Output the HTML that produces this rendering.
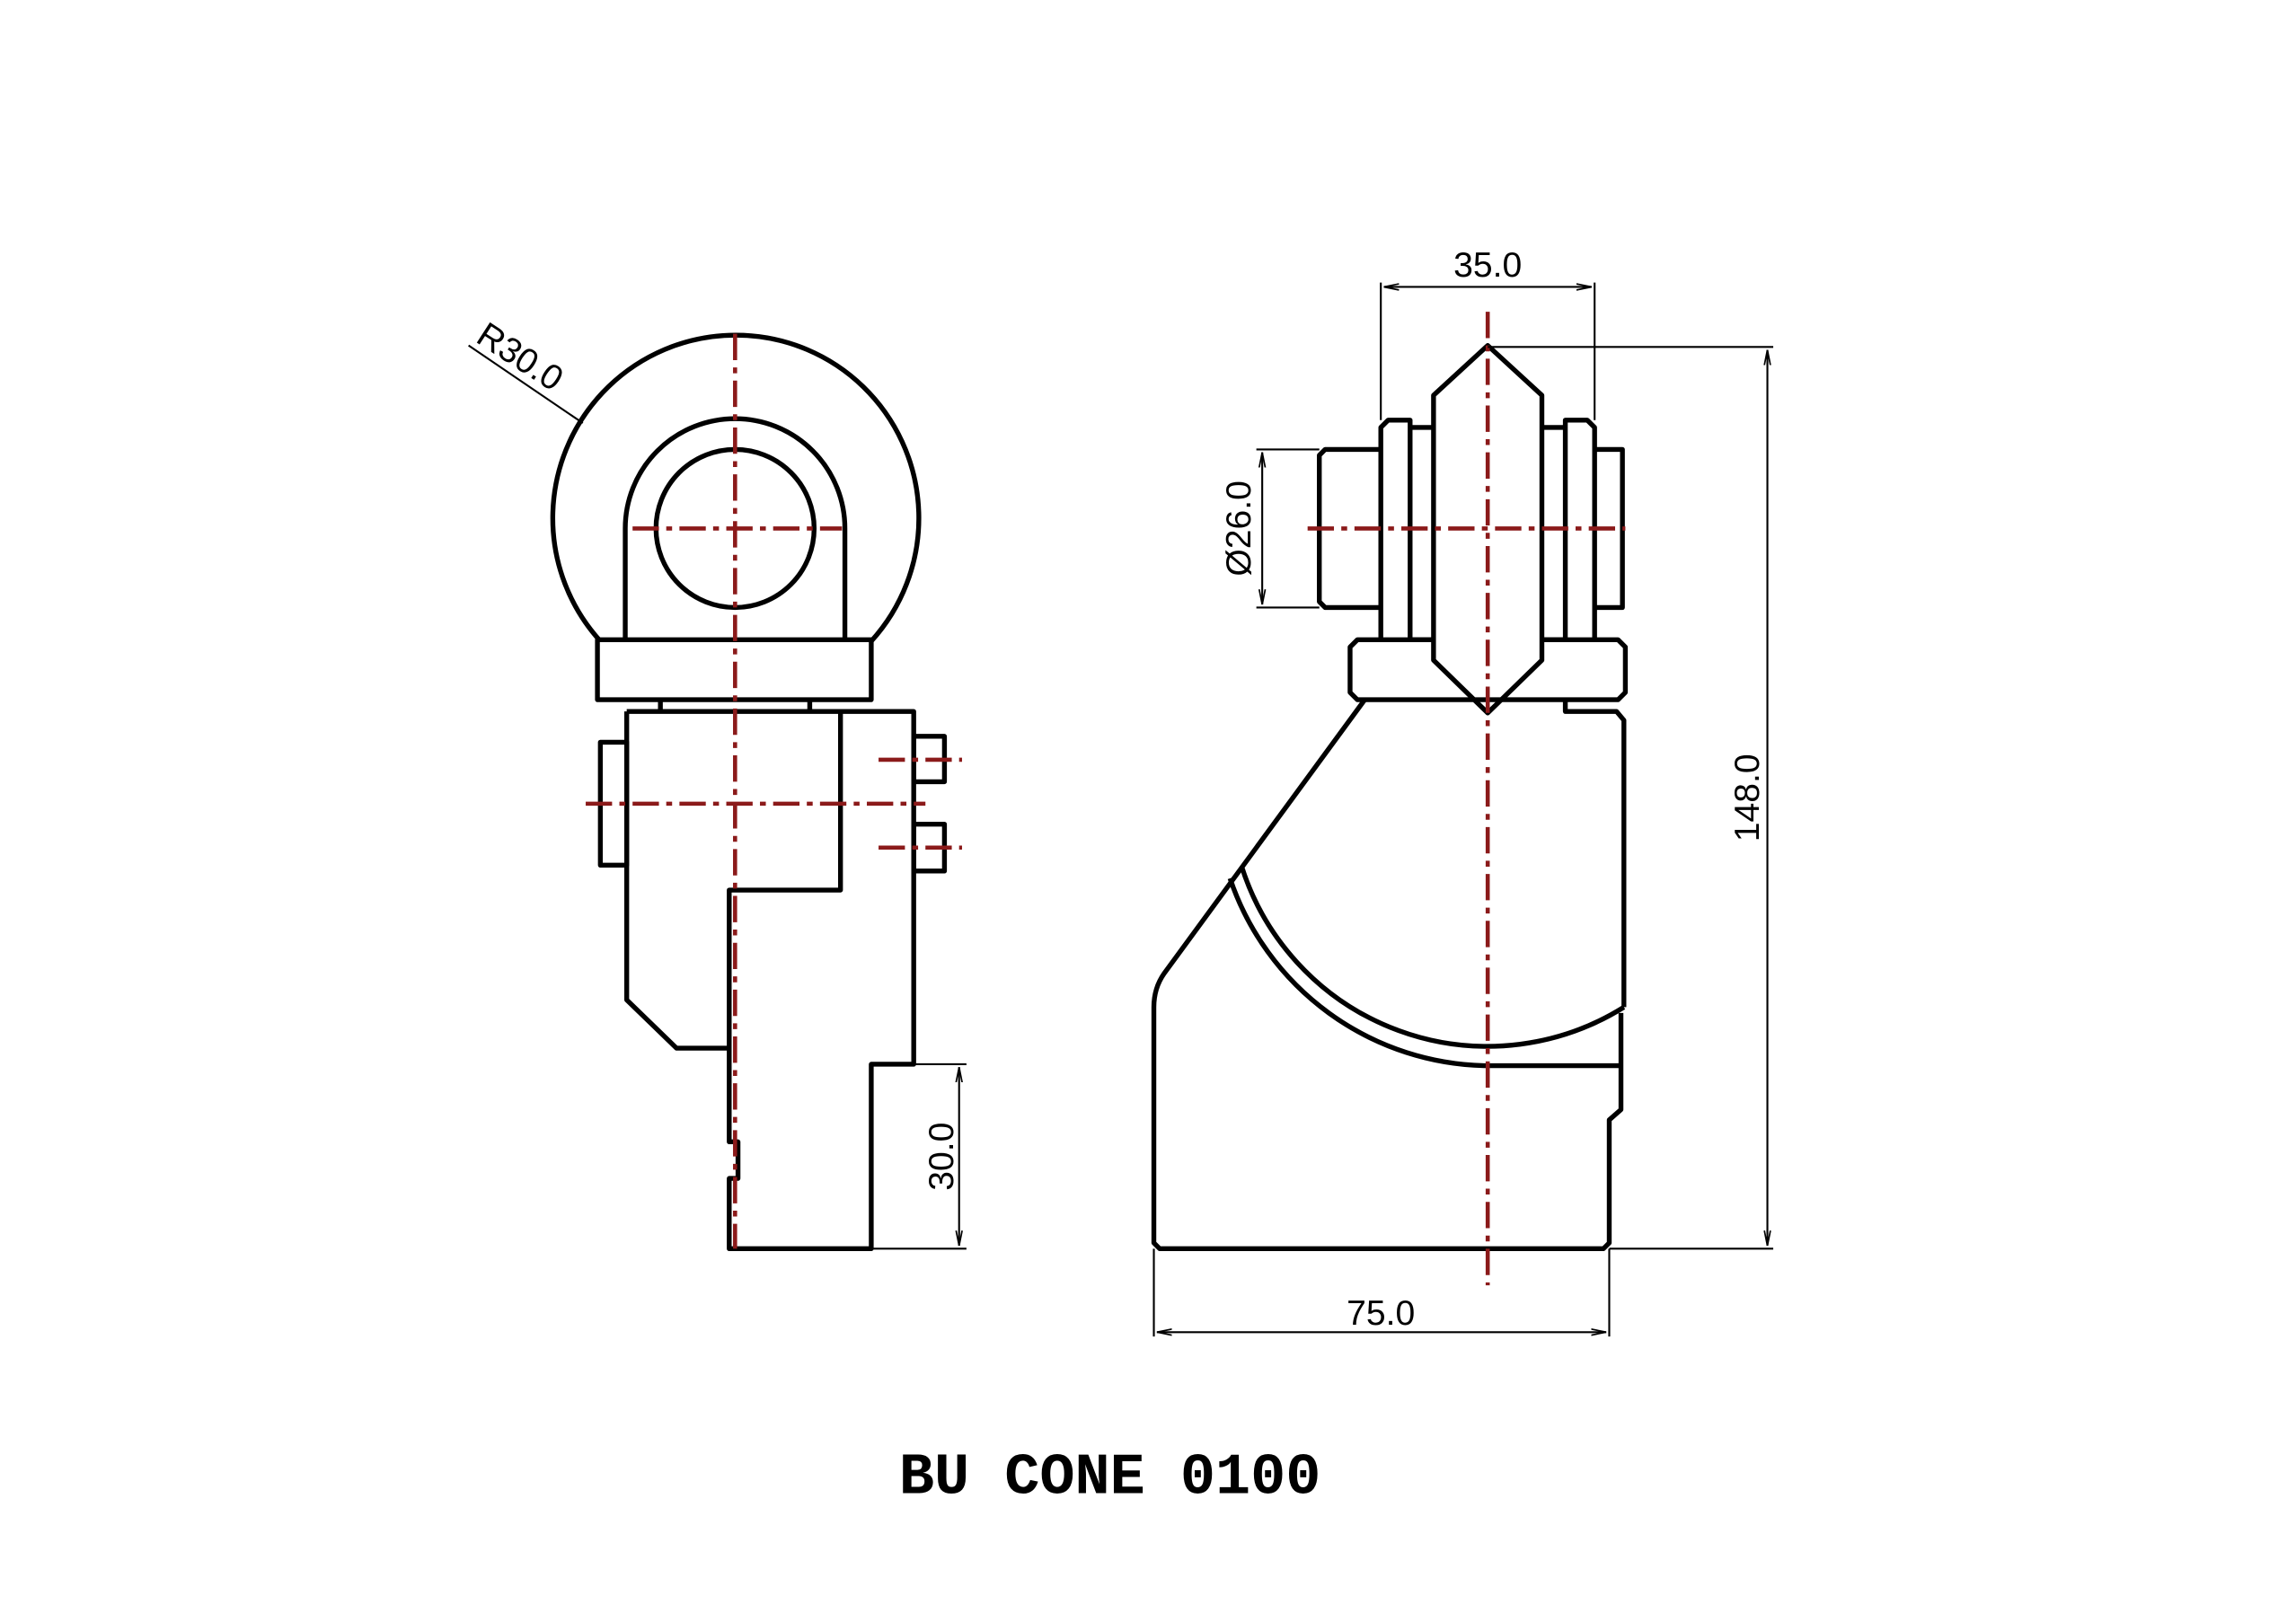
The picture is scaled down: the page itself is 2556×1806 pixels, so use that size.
<!DOCTYPE html>
<html><head><meta charset="utf-8"><style>
html,body{margin:0;padding:0;background:#fff;}
svg{display:block;}
</style></head><body>
<svg width="2556" height="1806" viewBox="0 0 1568 1108" preserveAspectRatio="none" xmlns="http://www.w3.org/2000/svg">
<defs>
<marker id="a" viewBox="0 0 10 10" refX="10" refY="5" markerWidth="8" markerHeight="8" orient="auto-start-reverse"><path d="M0,3 L10,5 L0,7" fill="none" stroke="#000" stroke-width="1"/></marker>
</defs>
<g fill="none" stroke="#000" stroke-width="3.3" stroke-linejoin="round">
<path d="M410,438 A125,125 0 1 1 595,438"/>
<path d="M427,437 L427,361 A75,75 0 0 1 577,361 L577,437"/>
<circle cx="502" cy="361" r="54"/>
<rect x="408" y="437" width="187" height="41"/>
<path d="M451,478 L451,486 M553,478 L553,486"/>
<path d="M428,486 L624,486 L624,727 L595,727 L595,853 L498,853 L498,805 L504,805 L504,780 L498,780 L498,608 L574,608 L574,486"/>
<path d="M428,486 L428,683 L462,716 L498,716"/>
<rect x="410" y="507" width="18" height="84"/>
<rect x="624" y="503" width="21" height="31"/>
<rect x="624" y="563" width="21" height="32"/>
<path d="M1016,236 L1053,270 L1053,451 L1016,487 L979,451 L979,270 Z"/>
<path d="M943,437 L943,292 L948,287 L963,287 L963,437"/>
<path d="M963,292 L979,292 M963,437 L979,437"/>
<path d="M943,307 L905,307 L901,311 L901,411 L905,415 L943,415"/>
<path d="M1089,437 L1089,292 L1084,287 L1069,287 L1069,437"/>
<path d="M1053,292 L1069,292 M1053,437 L1069,437"/>
<path d="M1089,307 L1108,307 L1108,415 L1089,415"/>
<path d="M979,437 L927,437 L922,442 L922,473 L927,478 L1105,478 L1110,473 L1110,442 L1105,437 L1053,437"/>
<path d="M932,478 L795,665 Q788,675 788,688 L788,849 L792,853 L1095,853 L1099,849 L1099,765 L1107,758 L1107,692"/>
<path d="M1069,478 L1069,486 L1104,486 L1109,492 L1109,688"/>
<path d="M848,592 A176,176 0 0 0 1109,688"/>
<path d="M840,600 A188,188 0 0 0 1016,728 L1107,728"/>
</g>
<g stroke="#8b1a1a" stroke-width="2.8" fill="none" stroke-dasharray="18,5,4,5">
<path d="M502,228 L502,853"/>
<path d="M432,361 L575,361"/>
<path d="M400,549 L632,549"/>
<path d="M600,519 L657,519"/>
<path d="M600,579 L657,579"/>
<path d="M1016,213 L1016,878"/>
<path d="M893,361 L1110,361"/>
</g>
<g stroke="#000" stroke-width="1.3" fill="none">
<path d="M320,236 L398,289"/>
<path d="M624,727 L660,727 M595,853 L660,853"/>
<path d="M655,729 L655,851" marker-start="url(#a)" marker-end="url(#a)"/>
<path d="M943,287 L943,193 M1089,287 L1089,193"/>
<path d="M945,196 L1087,196" marker-start="url(#a)" marker-end="url(#a)"/>
<path d="M901,307 L858,307 M901,415 L858,415"/>
<path d="M862,309 L862,413" marker-start="url(#a)" marker-end="url(#a)"/>
<path d="M1016,237 L1211,237 M1099,853 L1211,853"/>
<path d="M1207,239 L1207,851" marker-start="url(#a)" marker-end="url(#a)"/>
<path d="M788,853 L788,913 M1099,853 L1099,913"/>
<path d="M790,910 L1097,910" marker-start="url(#a)" marker-end="url(#a)"/>
</g>
<g font-family="'Liberation Sans',sans-serif" font-size="24" fill="#000">
<text transform="translate(324,233) rotate(33)">R30.0</text>
<text transform="translate(651,790) rotate(-90)" text-anchor="middle">30.0</text>
<text x="1016" y="189" text-anchor="middle">35.0</text>
<text transform="translate(854,361) rotate(-90)" text-anchor="middle">Ø26.0</text>
<text transform="translate(1201,545) rotate(-90)" text-anchor="middle">148.0</text>
<text x="943" y="905" text-anchor="middle">75.0</text>
</g>
<text x="758" y="1020" text-anchor="middle" font-family="'Liberation Mono',monospace" font-weight="bold" font-size="40" fill="#000">BU CONE 0100</text>
</svg>
</body></html>
